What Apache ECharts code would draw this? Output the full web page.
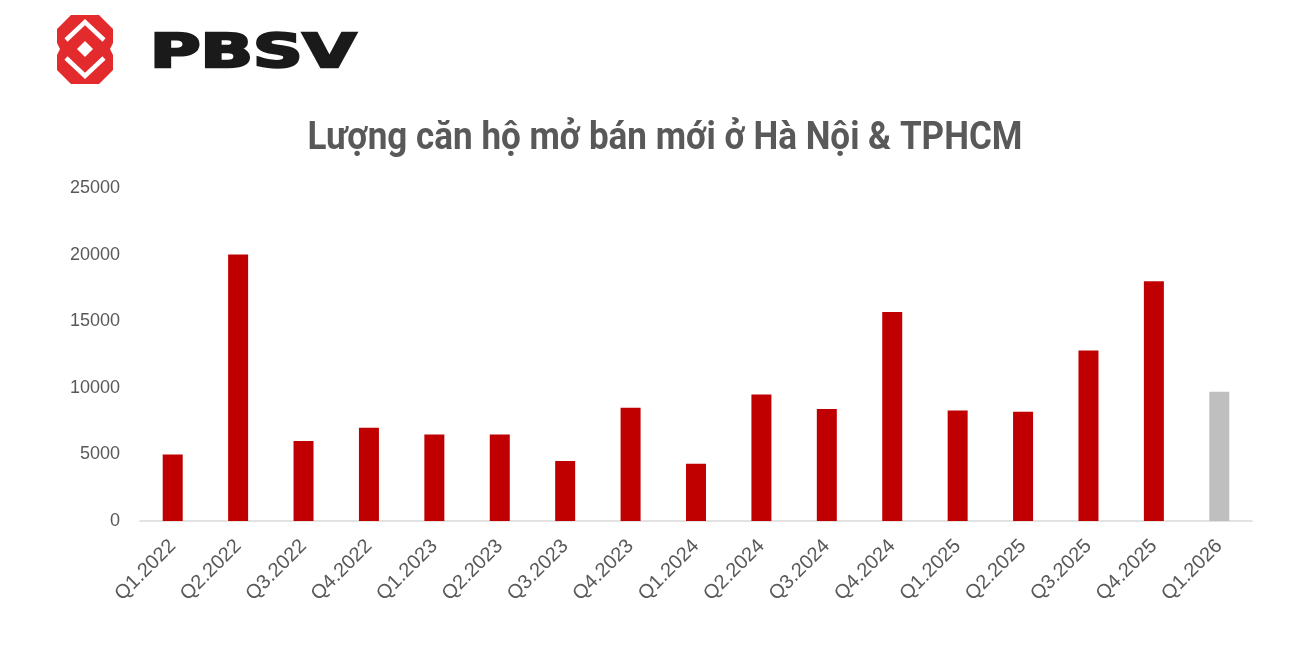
<!DOCTYPE html>
<html>
<head>
<meta charset="utf-8">
<script src="https://cdn.jsdelivr.net/npm/echarts@6/dist/echarts.min.js"></script>
<style>
html,body{margin:0;padding:0;background:#fff;}
#chart{width:1302px;height:646px;}
</style>
</head>
<body>
<div id="chart"></div>
<script>
var categories = ['Q1.2022','Q2.2022','Q3.2022','Q4.2022','Q1.2023','Q2.2023','Q3.2023','Q4.2023','Q1.2024','Q2.2024','Q3.2024','Q4.2024','Q1.2025','Q2.2025','Q3.2025','Q4.2025','Q1.2026'];
var values = [5000,20000,6000,7000,6500,6500,4500,8500,4300,9500,8400,15700,8300,8200,12800,18000,9700];
var forecastFlags = [0,0,0,0,0,0,0,0,0,0,0,0,0,0,0,0,1];
var yTicks = [0,5000,10000,15000,20000,25000];
var titleText = 'Lượng căn hộ mở bán mới ở Hà Nội & TPHCM';
var brandText = 'PBSV';

function measure(text, font){
  var c = document.createElement('canvas').getContext('2d');
  c.font = font;
  return c.measureText(text).width;
}
var titleFont = 'bold 38px Roboto';
var titleScale = 715 / measure(titleText, titleFont);
var brandFont = 'bold 46px "DejaVu Sans"';
var brandScale = 206 / measure(brandText, brandFont);

var chart = echarts.init(document.getElementById('chart'));
var red = '#E32B2E';
chart.setOption({
  backgroundColor: '#ffffff',
  animation: false,
  grid: {left: 140, right: 50, top: 188, bottom: 125, containLabel: false},
  xAxis: {
    type: 'category',
    data: categories,
    axisLine: {lineStyle: {color: '#D9D9D9', width: 1.5}},
    axisTick: {show: false},
    axisLabel: {rotate: 45, color: '#595959', fontSize: 20, fontFamily: '"Liberation Sans", Arial, sans-serif', margin: 22, interval: 0}
  },
  yAxis: {
    type: 'value',
    min: yTicks[0],
    max: yTicks[yTicks.length - 1],
    interval: yTicks[1] - yTicks[0],
    splitLine: {show: false},
    axisLine: {show: false},
    axisTick: {show: false},
    axisLabel: {color: '#595959', fontSize: 18, fontFamily: '"Liberation Sans", Arial, sans-serif', margin: 20,
      formatter: function(v){ return String(v); }}
  },
  series: [{
    type: 'bar',
    barWidth: 20,
    data: values.map(function(v, i){
      return {value: v, itemStyle: {color: forecastFlags[i] ? '#BFBFBF' : '#C00000'}};
    })
  }],
  graphic: [
    {
      type: 'text', x: 665, y: 139,
      scaleX: titleScale,
      style: {text: titleText, font: titleFont, fill: '#595959', align: 'center', verticalAlign: 'middle'}
    },
    {
      type: 'text', x: 150, y: 55,
      scaleX: brandScale,
      style: {text: brandText, font: brandFont, fill: '#1A1A1A', stroke: '#1A1A1A', lineWidth: 2.5, align: 'left', verticalAlign: 'middle'}
    },
    {
      type: 'polygon',
      shape: {points: [[71,15],[99,15],[113,29],[113,43],[110,49],[113,55],[113,70],[99,84],[71,84],[57,70],[57,55],[60,49],[57,43],[57,29]]},
      style: {fill: red}
    },
    {
      type: 'polyline',
      shape: {points: [[66,40],[85,22],[104,40]]},
      style: {stroke: '#ffffff', lineWidth: 4.5, fill: null}
    },
    {
      type: 'polyline',
      shape: {points: [[66,58],[85,76],[104,58]]},
      style: {stroke: '#ffffff', lineWidth: 4.5, fill: null}
    },
    {
      type: 'polygon',
      shape: {points: [[85,41],[93,49],[85,57],[77,49]]},
      style: {fill: '#ffffff'}
    }
  ]
});
</script>
</body>
</html>
